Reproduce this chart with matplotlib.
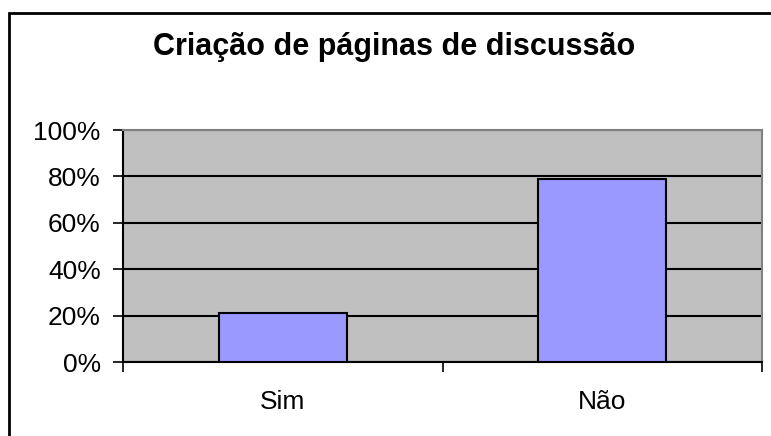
import matplotlib
matplotlib.use("Agg")
import matplotlib.pyplot as plt
from matplotlib.patches import Rectangle
from matplotlib.ticker import FuncFormatter, FixedLocator

categories = ["Sim", "Não"]
values = [0.21, 0.79]
yticks = [0, 0.2, 0.4, 0.6, 0.8, 1.0]
title = "Criação de páginas de discussão"

plt.rcParams['font.family'] = ['Liberation Sans', 'DejaVu Sans']

W, H = 771, 436
fig = plt.figure(figsize=(W / 100, H / 100), dpi=100)
fig.patch.set_facecolor("white")

# plot area in pixels
L, R, T, B = 123, 762, 130, 362
ax = fig.add_axes([L / W, 1 - B / H, (R - L) / W, (B - T) / H])
ax.set_facecolor("#C0C0C0")

x = list(range(len(categories)))
ax.bar(x, values, width=0.4, color="#9999FF", edgecolor="black", linewidth=1.5, zorder=3)

ax.set_xlim(-0.5, len(categories) - 0.5)
ax.set_ylim(0, 1)
ax.yaxis.set_major_locator(FixedLocator(yticks))
ax.yaxis.set_major_formatter(FuncFormatter(lambda v, p: f"{v*100:.0f}%"))
ax.grid(axis="y", color="black", linewidth=1.5, zorder=1)
ax.set_axisbelow(True)

# category boundary ticks and centered labels
ax.set_xticks([i - 0.5 for i in range(len(categories) + 1)])
ax.set_xticklabels([])
ax.set_xticks(x, minor=True)
ax.set_xticklabels(categories, minor=True)
ax.tick_params(axis="x", which="major", direction="out", length=7, width=1.2, color="black")
ax.tick_params(axis="x", which="minor", length=0, pad=20.5, labelsize=19)
ax.tick_params(axis="y", direction="out", length=7, width=1.2, color="black", pad=9, labelsize=19)

for s in ["top", "right"]:
    ax.spines[s].set_color("#808080")
    ax.spines[s].set_linewidth(1.5)
for s in ["left", "bottom"]:
    ax.spines[s].set_color("black")
    ax.spines[s].set_linewidth(1.5)

fig.text(394 / W, 1 - 55 / H, title, ha="center", va="baseline",
         fontsize=22, fontweight="bold")

# outer chart frame (left and top visible, rest clipped)
fig.patches.append(Rectangle((9 / W, -0.05), 1.1, 1 - 13 / H + 0.05,
                             transform=fig.transFigure, fill=False,
                             edgecolor="black", linewidth=2))

fig.savefig("out.png", dpi=100)
